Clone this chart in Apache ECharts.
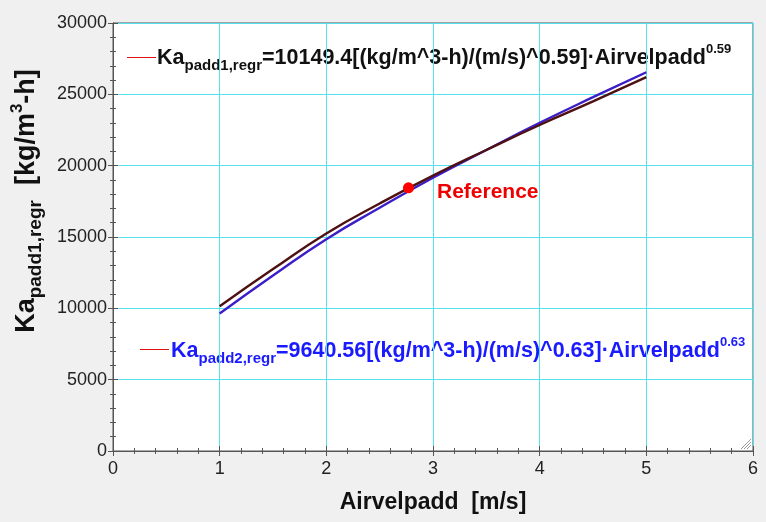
<!DOCTYPE html>
<html><head><meta charset="utf-8">
<script src="https://cdn.jsdelivr.net/npm/echarts@6/dist/echarts.min.js"></script>
<style>html,body{margin:0;padding:0;background:#f0f0f0}#c{width:766px;height:522px}</style>
</head><body><div id="c"></div>
<script>
const xValues = [1, 1.5, 2, 2.5, 3, 3.5, 4, 4.5, 5];
const padd1Values = [10150, 12750, 15250, 17350, 19300, 21100, 22850, 24500, 26200];
const padd2Values = [9640, 12300, 14850, 17050, 19150, 21100, 23000, 24800, 26550];
const referencePoint = [2.77, 18450];
const xTicks = [0, 1, 2, 3, 4, 5, 6];
const yTicks = [0, 5000, 10000, 15000, 20000, 25000, 30000];

const chart = echarts.init(document.getElementById('c'));
const FONT = 'Liberation Sans, Arial, sans-serif';
const gridColor = '#55e2ea';
const axisCommon = {
  axisLine: {show: true, lineStyle: {color: '#555', width: 1}},
  axisTick: {show: true, inside: true, length: 5, lineStyle: {color: '#555'}},
  minorTick: {show: true, splitNumber: 5, length: 3, lineStyle: {color: '#555'}},
};
const richName = (size, color, lh) => ({
  b: {fontFamily: FONT, fontWeight: 'bold', fontSize: size, color: color, fill: color, lineHeight: lh, verticalAlign: 'middle'},
  sub: {fontFamily: FONT, fontWeight: 'bold', fontSize: Math.round(size * 0.7), color: color, fill: color, lineHeight: lh, verticalAlign: 'bottom'},
  sup: {fontFamily: FONT, fontWeight: 'bold', fontSize: Math.round(size * 0.62), color: color, fill: color, lineHeight: lh, verticalAlign: 'top'}
});

chart.setOption({
  backgroundColor: '#f0f0f0',
  animation: false,
  grid: {left: 113, top: 23, right: 13, bottom: 71, outerBoundsMode: 'none', containLabel: false,
    show: true, backgroundColor: '#ffffff', borderColor: '#555', borderWidth: 1},
  xAxis: [{
    type: 'value', min: xTicks[0], max: xTicks[xTicks.length-1], interval: 1,
    ...axisCommon,
    axisLabel: {fontFamily: FONT, fontSize: 18, color: '#222', margin: 9},
    splitLine: {show: true, lineStyle: {color: gridColor, width: 1}},
    name: 'Airvelpadd  [m/s]', nameLocation: 'middle', nameGap: 40,
    nameTextStyle: {fontFamily: FONT, fontWeight: 'bold', fontSize: 23, color: '#111'}
  }, {
    type: 'value', position: 'top', min: 0, max: 6, interval: 1,
    ...axisCommon, axisLabel: {show: false}, splitLine: {show: false}
  }],
  yAxis: [{
    type: 'value', min: yTicks[0], max: yTicks[yTicks.length-1], interval: 5000,
    ...axisCommon,
    axisLabel: {fontFamily: FONT, fontSize: 18, color: '#222', margin: 6, formatter: v => String(v)},
    splitLine: {show: true, lineStyle: {color: gridColor, width: 1}}
  }, {
    type: 'value', position: 'right', min: 0, max: 30000, interval: 5000,
    ...axisCommon, axisLabel: {show: false}, splitLine: {show: false}
  }],
  series: [{
    type: 'line', smooth: true, showSymbol: false,
    data: xValues.map((x, i) => [x, padd1Values[i]]),
    lineStyle: {color: '#4e1010', width: 2.4}, z: 3
  }, {
    type: 'line', smooth: true, showSymbol: false,
    data: xValues.map((x, i) => [x, padd2Values[i]]),
    lineStyle: {color: '#3c1ec8', width: 2.4}, z: 2
  }, {
    type: 'scatter', data: [referencePoint], symbolSize: 11,
    itemStyle: {color: '#ff0000', opacity: 1}, z: 5,
    label: {show: true, position: 'right', distance: 23, offset: [0, 4], formatter: 'Reference',
      fontFamily: FONT, fontWeight: 'bold', fontSize: 21, color: '#ee0000'}
  }],
  graphic: [
    {type: 'text', x: 27, y: 201, rotation: Math.PI / 2, style: {
      text: '{b|Ka}{sub|padd1,regr}{b|  [kg/m}{sup|3}{b|-h]}', align: 'center', verticalAlign: 'middle',
      fill: '#111', rich: richName(27, '#111', 36)}},
    {type: 'rect', shape: {x: 127, y: 57, width: 29, height: 1}, style: {fill: '#dd1111'}},
    {type: 'text', left: 157, top: 43, style: {
      text: '{b|Ka}{sub|padd1,regr}{b|=10149.4[(kg/m^3-h)/(m/s)^0.59]·Airvelpadd}{sup|0.59}',
      fill: '#111', rich: richName(21.5, '#111', 30)}},
    {type: 'rect', shape: {x: 140, y: 349, width: 29, height: 1}, style: {fill: '#dd1111'}},
    {type: 'text', left: 171, top: 336, style: {
      text: '{b|Ka}{sub|padd2,regr}{b|=9640.56[(kg/m^3-h)/(m/s)^0.63]·Airvelpadd}{sup|0.63}',
      fill: '#1a1aff', rich: richName(21.5, '#1a1aff', 30)}},
    {type: 'line', shape: {x1: 741, y1: 449, x2: 751, y2: 439}, style: {stroke: '#999', lineWidth: 1}},
    {type: 'line', shape: {x1: 744, y1: 449, x2: 751, y2: 442}, style: {stroke: '#999', lineWidth: 1}},
    {type: 'line', shape: {x1: 747, y1: 449, x2: 751, y2: 445}, style: {stroke: '#999', lineWidth: 1}}
  ]
});
</script></body></html>
